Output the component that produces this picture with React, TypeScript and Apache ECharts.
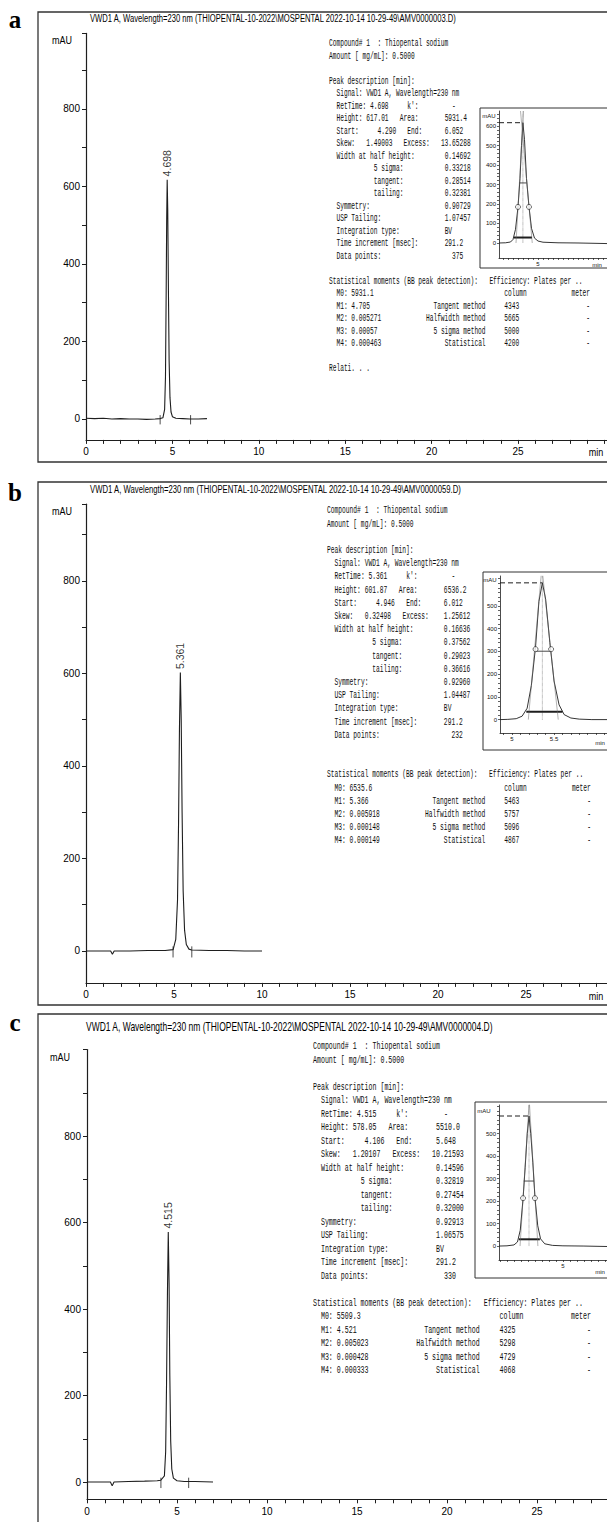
import React, { useEffect, useRef } from "react";
import * as echarts from "echarts";

// ---------------- titles ----------------
const titleA = "VWD1 A, Wavelength=230 nm (THIOPENTAL-10-2022\\MOSPENTAL 2022-10-14 10-29-49\\AMV0000003.D)";
const titleB = "VWD1 A, Wavelength=230 nm (THIOPENTAL-10-2022\\MOSPENTAL 2022-10-14 10-29-49\\AMV0000059.D)";
const titleC = "VWD1 A, Wavelength=230 nm (THIOPENTAL-10-2022\\MOSPENTAL 2022-10-14 10-29-49\\AMV0000004.D)";

// ---------------- tick labels ----------------
const xTickLabels = [0, 5, 10, 15, 20, 25];
const yTickLabels = [0, 200, 400, 600, 800];
const insetYLabelsA = [0, 100, 200, 300, 400, 500, 600];
const insetYLabelsB = [0, 100, 200, 300, 400, 500];
const insetYLabelsC = [0, 100, 200, 300, 400, 500];
const insetXLabelsA = [5];
const insetXLabelsB = [5, 5.5];
const insetXLabelsC = [5];

// ---------------- main chromatograms (min, mAU) ----------------
const timesA = [0, 0.5, 1.0, 1.5, 2.0, 2.5, 3.0, 3.5, 4.0, 4.3, 4.45, 4.55, 4.6, 4.64, 4.67, 4.698, 4.73, 4.77, 4.81, 4.86, 4.92, 5.0, 5.2, 5.6, 6.0, 6.5, 7.0];
const signalA = [2, 1, 2, 0, 1, 0, 0, -1, 0, 1, 3, 25, 110, 330, 520, 617, 540, 330, 150, 55, 18, 6, 2, 1, 0, 0, 1];

const timesB = [0, 0.7, 1.4, 1.5, 1.6, 2.5, 3.5, 4.5, 4.95, 5.1, 5.2, 5.26, 5.31, 5.361, 5.41, 5.46, 5.52, 5.6, 5.7, 5.85, 6.0, 7.0, 8.0, 9.0, 10.0];
const signalB = [0, 0, 0, -7, 0, 0, 1, 1, 3, 25, 110, 280, 480, 602, 500, 300, 130, 45, 14, 4, 2, 1, 1, 0, 0];

const timesC = [0, 0.7, 1.3, 1.4, 1.5, 2.3, 3.2, 3.9, 4.1, 4.3, 4.37, 4.42, 4.47, 4.515, 4.56, 4.6, 4.65, 4.71, 4.8, 5.0, 5.4, 6.0, 7.0];
const signalC = [0, 0, 0, -9, 0, 1, 2, 3, 4, 14, 70, 230, 440, 578, 460, 250, 95, 30, 9, 3, 1, 1, 0];

// ---------------- inset peak views ----------------
const insetTimesA = [4.22, 4.35, 4.45, 4.5, 4.55, 4.6, 4.64, 4.67, 4.698, 4.73, 4.77, 4.82, 4.87, 4.93, 5.0, 5.1, 5.4, 5.8, 6.2, 6.38];
const insetSignalA = [0, 1, 5, 18, 70, 185, 330, 500, 617, 530, 330, 185, 75, 25, 10, 4, 1, 0, -2, -3];
const halfA = [[4.625, 308], [4.772, 308]];
const circlesA = [[4.6, 185], [4.82, 185]];
const widthA = [[4.52, 28], [4.88, 28]];
const tangentsA = [[4.56, 0, 4.71, 677], [4.885, 0, 4.65, 677]];

const insetTimesB = [4.857, 4.95, 5.05, 5.12, 5.18, 5.23, 5.28, 5.32, 5.361, 5.4, 5.45, 5.5, 5.56, 5.62, 5.7, 5.8, 5.95, 6.13];
const insetSignalB = [0, 1, 4, 15, 50, 150, 320, 520, 602, 530, 340, 170, 65, 22, 7, 2, 0, 0];
const halfB = [[5.28, 301], [5.455, 301]];
const circlesB = [[5.28, 310], [5.465, 310]];
const widthB = [[5.17, 35], [5.6, 35]];
const tangentsB = [[5.194, 0, 5.348, 640], [5.55, 0, 5.364, 640]];

const insetTimesC = [4.086, 4.2, 4.3, 4.35, 4.39, 4.43, 4.46, 4.49, 4.515, 4.54, 4.57, 4.6, 4.64, 4.68, 4.74, 4.85, 5.0, 5.3, 5.63];
const insetSignalC = [0, 1, 5, 18, 70, 210, 350, 500, 578, 500, 370, 215, 90, 32, 10, 3, 1, 0, -2];
const halfC = [[4.44, 289], [4.585, 289]];
const circlesC = [[4.43, 213], [4.6, 213]];
const widthC = [[4.37, 30], [4.67, 30]];
const tangentsC = [[4.387, 0, 4.517, 640], [4.642, 0, 4.52, 640]];

// ---------------- printed peak reports ----------------
// RetTime, Height, Area, Start, End, Skew, Excess, WHH, 5 sigma, tangent, tailing, Symmetry, USP, type, increment, points
const peakA = ["4.698", "617.01", "5931.4", "4.290", "6.052", "1.49003", "13.65288", "0.14692", "0.33218", "0.28514", "0.32381", "0.90729", "1.07457", "BV", "291.2", "375"];
const peakB = ["5.361", "601.87", "6536.2", "4.946", "6.012", "0.32498", "1.25612", "0.16636", "0.37562", "0.29023", "0.36616", "0.92960", "1.04487", "BV", "291.2", "232"];
const peakC = ["4.515", "578.05", "5510.0", "4.106", "5.648", "1.20107", "10.21593", "0.14596", "0.32819", "0.27454", "0.32000", "0.92913", "1.06575", "BV", "291.2", "330"];
const momentsA = ["5931.1", "4.705", "0.005271", "0.00057", "0.000463"];
const momentsB = ["6535.6", "5.366", "0.005918", "0.000148", "0.000149"];
const momentsC = ["5509.3", "4.521", "0.005023", "0.000428", "0.000333"];
const platesA = ["4343", "5665", "5000", "4200"];
const platesB = ["5463", "5757", "5096", "4867"];
const platesC = ["4325", "5298", "4729", "4068"];

// ---------------- styling ----------------
const INK = "#1e1e1e";
const SANS = "Liberation Sans, Arial, sans-serif";
const MONO = "Liberation Mono, Courier New, monospace";
const SERIF = "Liberation Serif, Times New Roman, serif";

type Seg = [number, string];

function peakRows(p: string[]): Seg[][] {
  const [rt, ht, area, st, en, skew, exc, whh, s5, tg, tl, sym, usp, it, inc, pts] = p;
  return [
    [[0, "Compound# 1"], [13, ": Thiopental sodium"]],
    [[0, "Amount [ mg/mL]: 0.5000"]],
    [],
    [[0, "Peak description [min]:"]],
    [[2, "Signal: VWD1 A, Wavelength=230 nm"]],
    [[2, "RetTime: " + rt], [21, "k':"], [33, "-"]],
    [[2, "Height: " + ht], [19, "Area:"], [31, area]],
    [[2, "Start:"], [13, st], [21, "End:"], [31, en]],
    [[2, "Skew:"], [10, skew], [20, "Excess:"], [exc.length >= 8 ? 30 : 31, exc]],
    [[2, "Width at half height:"], [31, whh]],
    [[12, "5 sigma:"], [31, s5]],
    [[12, "tangent:"], [31, tg]],
    [[12, "tailing:"], [31, tl]],
    [[2, "Symmetry:"], [31, sym]],
    [[2, "USP Tailing:"], [31, usp]],
    [[2, "Integration type:"], [31, it]],
    [[2, "Time increment [msec]:"], [31, inc]],
    [[2, "Data points:"], [33, pts]],
  ];
}

function statRows(m: string[], e: string[]): Seg[][] {
  return [
    [[0, "Statistical moments (BB peak detection):"], [43, "Efficiency: Plates per .."]],
    [[2, "M0: " + m[0]], [47, "column"], [65, "meter"]],
    [[2, "M1: " + m[1]], [28, "Tangent method"], [47, e[0]], [69, "-"]],
    [[2, "M2: " + m[2]], [26, "Halfwidth method"], [47, e[1]], [69, "-"]],
    [[2, "M3: " + m[3]], [28, "5 sigma method"], [47, e[2]], [69, "-"]],
    [[2, "M4: " + m[4]], [31, "Statistical"], [47, e[3]], [69, "-"]],
  ];
}

const zip = (t: number[], v: number[]) => t.map((x, i) => [x, v[i]]);
const steps = (a: number, b: number, s: number) => {
  const out: number[] = [];
  for (let k = 0; a + k * s <= b + 1e-9; k++) out.push(Math.round((a + k * s) * 1000) / 1000);
  return out;
};

const PANELS = [
  {
    label: "a", labelPos: [15, 19], frame: [38, 12, 620, 450],
    title: { text: titleA, x: 90, y: 18, w: 367, size: 11 },
    mau: [52, 40], minLbl: [596, 452],
    grid: { left: 86, top: 33.4, width: 521.9, height: 406.5 }, xr: [0, 30.2], yr: [-54, 995],
    times: timesA, signal: signalA, peak: peakA, moments: momentsA, plates: platesA,
    text: { x: 329, y: 44, lh: 12.5, adv: 3.73, fs: 10.5, gap: 1, extra: true },
    inset: {
      box: [480, 108, 140, 160], grid: { left: 499, top: 111, width: 108, height: 147 }, xr: [4.22, 6.38], yr: [-77, 677],
      yLabels: insetYLabelsA, xLabels: insetXLabelsA, mau: [489, 116], minLbl: [597, 265],
      times: insetTimesA, signal: insetSignalA, half: halfA, circles: circlesA, width: widthA, tangents: tangentsA,
    },
  },
  {
    label: "b", labelPos: [15, 492], frame: [38, 482, 620, 523],
    title: { text: titleB, x: 90, y: 489, w: 372, size: 11 },
    mau: [52, 511], minLbl: [596, 996],
    grid: { left: 86, top: 504.2, width: 528, height: 478.7 }, xr: [0, 30], yr: [-69, 966],
    times: timesB, signal: signalB, peak: peakB, moments: momentsB, plates: platesB,
    text: { x: 327, y: 511, lh: 13.2, adv: 3.77, fs: 10.5, gap: 2, extra: false },
    inset: {
      box: [483, 572, 140, 178], grid: { left: 500, top: 576, width: 107, height: 157 }, xr: [4.857, 6.13], yr: [-59, 632],
      yLabels: insetYLabelsB, xLabels: insetXLabelsB, mau: [490, 580], minLbl: [600, 743],
      times: insetTimesB, signal: insetSignalB, half: halfB, circles: circlesB, width: widthB, tangents: tangentsB,
    },
  },
  {
    label: "c", labelPos: [15, 1022], frame: [38, 1014, 620, 600],
    title: { text: titleC, x: 86, y: 1027, w: 408, size: 12 },
    mau: [50, 1057], minLbl: null as null | number[],
    grid: { left: 87, top: 1049.5, width: 531, height: 449.8 }, xr: [0, 29.5], yr: [-40, 1000],
    times: timesC, signal: signalC, peak: peakC, moments: momentsC, plates: platesC,
    text: { x: 313, y: 1046, lh: 13.5, adv: 3.97, fs: 11, gap: 1, extra: false },
    inset: {
      box: [475, 1102, 145, 176], grid: { left: 499, top: 1105, width: 108, height: 155 }, xr: [4.086, 5.63], yr: [-62, 627],
      yLabels: insetYLabelsC, xLabels: insetXLabelsC, mau: [484, 1111], minLbl: [600, 1272],
      times: insetTimesC, signal: insetSignalC, half: halfC, circles: circlesC, width: widthC, tangents: tangentsC,
    },
  },
];

function textEl(text: string, x: number, y: number, size: number, family: string, opts: any = {}) {
  const align = opts.align || "left";
  return {
    type: "text", x, y, silent: true, scaleX: opts.scaleX || 1, rotation: opts.rotation || 0,
    style: {
      text, fontSize: size, fontFamily: family, fontWeight: opts.weight || "normal", fill: opts.fill || "#111",
      textAlign: align, textVerticalAlign: "middle", align, verticalAlign: "middle",
    },
  };
}

function buildOption() {
  const grids: any[] = [];
  const xAxes: any[] = [];
  const yAxes: any[] = [];
  const series: any[] = [];
  const g: any[] = [];
  const ctx = document.createElement("canvas").getContext("2d")!;

  const line = (gi: number, data: any[], ls: any = {}, z = 3) => ({
    type: "line", xAxisIndex: gi, yAxisIndex: gi, data, symbol: "none", silent: true, z,
    lineStyle: { color: INK, width: 1, ...ls },
  });

  PANELS.forEach((P) => {
    // frame, panel label, title
    const [fx, fy, fw, fh] = P.frame;
    g.push({ type: "rect", silent: true, shape: { x: fx, y: fy, width: fw, height: fh }, style: { fill: "none", stroke: "#333", lineWidth: 1.3 } });
    g.push(textEl(P.label, P.labelPos[0], P.labelPos[1], 25, SERIF, { weight: "bold", align: "center", fill: "#000" }));
    ctx.font = `${P.title.size}px "Liberation Sans"`;
    const tw = ctx.measureText(P.title.text).width || 1;
    g.push(textEl(P.title.text, P.title.x, P.title.y, P.title.size, SANS, { scaleX: P.title.w / tw, fill: "#000" }));
    g.push(textEl("mAU", P.mau[0], P.mau[1], 10, SANS, { scaleX: 0.9, fill: "#000" }));
    if (P.minLbl) g.push(textEl("min", P.minLbl[0], P.minLbl[1], 10, SANS, { align: "center", scaleX: 0.9, fill: "#000" }));

    // main chart
    const gi = grids.length;
    grids.push({ ...P.grid, containLabel: false, outerBoundsMode: "none" });
    xAxes.push({
      type: "value", gridIndex: gi, min: P.xr[0], max: P.xr[1], position: "bottom",
      axisLine: { show: true, onZero: false, lineStyle: { color: INK, width: 1.2 } },
      axisTick: { show: true, customValues: steps(0, Math.floor(P.xr[1]), 1), length: 4, lineStyle: { color: INK, width: 1 } },
      axisLabel: { show: true, customValues: xTickLabels, formatter: (v: number) => String(v), margin: 7, fontSize: 10, color: "#000", fontFamily: SANS },
      splitLine: { show: false },
    });
    yAxes.push({
      type: "value", gridIndex: gi, min: P.yr[0], max: P.yr[1], position: "left",
      axisLine: { show: true, onZero: false, lineStyle: { color: INK, width: 1.2 } },
      axisTick: { show: true, customValues: [...steps(0, P.yr[1] - 20, 100), P.yr[1]], length: 4, lineStyle: { color: INK, width: 1 } },
      axisLabel: { show: true, customValues: yTickLabels, formatter: (v: number) => String(v), margin: 6, fontSize: 10, color: "#000", fontFamily: SANS },
      splitLine: { show: false },
    });
    series.push(line(gi, zip(P.times, P.signal), { width: 1.1 }));
    const start = parseFloat(P.peak[3]);
    const end = parseFloat(P.peak[4]);
    [start, end].forEach((t) => series.push(line(gi, [[t, -14], [t, 10]], { width: 0.8 })));
    series.push({
      type: "scatter", xAxisIndex: gi, yAxisIndex: gi, silent: true, symbolSize: 1,
      itemStyle: { color: "rgba(0,0,0,0)" },
      data: [[parseFloat(P.peak[0]), parseFloat(P.peak[1])]],
      label: {
        show: true, formatter: P.peak[0], position: "top", distance: 3, rotate: 90, align: "left", verticalAlign: "middle",
        fontSize: 10.5, color: "#000", fontFamily: SANS,
      },
    });

    // printed report text
    const T = P.text;
    const rows: Seg[][] = [...peakRows(P.peak)];
    for (let k = 0; k < T.gap; k++) rows.push([]);
    rows.push(...statRows(P.moments, P.plates));
    if (T.extra) rows.push([], [[0, "Relati. . ."]]);
    const sx = T.adv / (0.6 * T.fs);
    rows.forEach((row, r) => row.forEach(([col, txt]) => {
      g.push(textEl(txt, T.x + col * T.adv, T.y + r * T.lh, T.fs, MONO, { scaleX: sx, fill: "#0d0d0d" }));
    }));

    // inset
    const I = P.inset;
    const [bx, by, bw, bh] = I.box;
    g.push({ type: "rect", silent: true, shape: { x: bx, y: by, width: bw, height: bh }, style: { fill: "#fff", stroke: "#333", lineWidth: 1 }, z: -1 });
    g.push(textEl("mAU", I.mau[0], I.mau[1], 6, SANS, { align: "center" }));
    g.push(textEl("min", I.minLbl[0], I.minLbl[1], 6, SANS, { align: "center" }));
    const ii = grids.length;
    grids.push({ ...I.grid, containLabel: false, outerBoundsMode: "none" });
    xAxes.push({
      type: "value", gridIndex: ii, min: I.xr[0], max: I.xr[1], position: "bottom",
      axisLine: { show: true, onZero: false, lineStyle: { color: INK, width: 0.8 } },
      axisTick: { show: true, customValues: steps(Math.ceil(I.xr[0] * 10) / 10, I.xr[1], 0.1), length: 2, lineStyle: { color: INK, width: 0.7 } },
      axisLabel: { show: true, customValues: I.xLabels, formatter: (v: number) => String(v), margin: 3, fontSize: 6, color: "#111", fontFamily: SANS },
      splitLine: { show: false },
    });
    yAxes.push({
      type: "value", gridIndex: ii, min: I.yr[0], max: I.yr[1], position: "left",
      axisLine: { show: true, onZero: false, lineStyle: { color: INK, width: 0.8 } },
      axisTick: { show: true, customValues: steps(0, I.yr[1], 20), length: 2, lineStyle: { color: INK, width: 0.7 } },
      axisLabel: { show: true, customValues: I.yLabels, formatter: (v: number) => String(v), margin: 3, fontSize: 6, color: "#111", fontFamily: SANS },
      splitLine: { show: false },
    });
    const rt = parseFloat(P.peak[0]);
    const h = parseFloat(P.peak[1]);
    series.push(line(ii, zip(I.times, I.signal), { width: 0.9 }));
    series.push(line(ii, [[I.xr[0], h], [rt, h]], { width: 1, type: [5, 3] }));
    series.push(line(ii, [[rt, 0], [rt, I.yr[1]]], { width: 0.6, type: "dotted", color: "#555" }));
    series.push(line(ii, I.half, { width: 0.8 }));
    series.push(line(ii, I.width, { width: 2 }));
    I.tangents.forEach((tg) => series.push(line(ii, [[tg[0], tg[1]], [tg[2], tg[3]]], { width: 0.5, color: "#666" })));
    series.push({
      type: "scatter", xAxisIndex: ii, yAxisIndex: ii, silent: true, data: I.circles, symbol: "circle", symbolSize: 5, z: 4,
      itemStyle: { color: "#fff", borderColor: INK, borderWidth: 0.8 },
    });
  });

  return {
    animation: false,
    backgroundColor: "#ffffff",
    grid: grids,
    xAxis: xAxes,
    yAxis: yAxes,
    series,
    graphic: { elements: g },
  };
}

export default function App() {
  const ref = useRef<HTMLDivElement>(null);
  useEffect(() => {
    if (!ref.current) return;
    const chart = echarts.init(ref.current, undefined, { renderer: "svg" });
    chart.setOption(buildOption() as any);
    return () => chart.dispose();
  }, []);
  return (
    <div
      ref={ref}
      style={{ position: "absolute", left: 0, top: 0, width: 607, height: 1522, background: "#fff" }}
    />
  );
}
